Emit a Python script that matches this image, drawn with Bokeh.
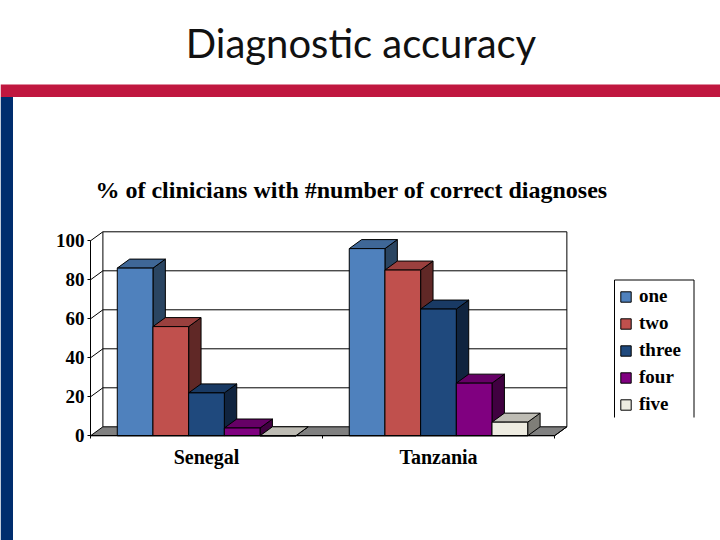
from bokeh.plotting import figure
from bokeh.models import LinearAxis, FixedTicker, Range1d, Legend, LegendItem
from bokeh.core.properties import value
from bokeh.embed import file_html
from bokeh.resources import INLINE

slide_title = "Diagnostic accuracy"
chart_title = "% of clinicians with #number of correct diagnoses"
categories = ["Senegal", "Tanzania"]
series_names = ["one", "two", "three", "four", "five"]
senegal = [86, 56, 22, 4, 0]
tanzania = [96, 85, 65, 27, 7]
y_ticks = [0, 20, 40, 60, 80, 100]
front_colors = ["#4f81bd", "#c0504d", "#1f497d", "#800080", "#eeece1"]
top_colors = ["#3f6797", "#9a403e", "#193a64", "#660066", "#bebcb4"]
side_colors = ["#2a4562", "#602826", "#10243f", "#400040", "#7f7e78"]

# Pixel geometry of the chart (canvas coordinates)
X0, UNIT = 90.0, 35.69      # x of axis origin, px per bar width
Y0, PCT = 435.3, 1.95       # y of value 0, px per percent
DX, DY = 12.4 / UNIT, 9.0 / PCT   # oblique depth in data units
W, H = 720, 540


def ux(px):
    return (px - X0) / UNIT


def uy(py):
    return (Y0 - py) / PCT


p = figure(width=W, height=H, output_backend="svg", toolbar_location=None,
           x_range=Range1d(ux(0), ux(W)), y_range=Range1d(uy(H), uy(0)),
           x_axis_type=None, y_axis_type=None, min_border=0,
           outline_line_color=None, background_fill_color="white",
           border_fill_color="white")

# Slide furniture
p.quad(left=[ux(0)], right=[ux(W)], top=[uy(84)], bottom=[uy(96.5)],
       fill_color="#c0173f", line_color=None)
p.quad(left=[ux(0)], right=[ux(12.5)], top=[uy(96.5)], bottom=[uy(H)],
       fill_color="#002d6e", line_color=None)
p.text(x=[ux(360.5)], y=[uy(42.5)], text=[slide_title], text_font=value("Lato"),
       text_font_size="40px", text_color="#111111", text_align="center",
       text_baseline="middle")
p.text(x=[ux(351)], y=[uy(189.5)], text=[chart_title],
       text_font=value("Liberation Serif"), text_font_style="bold",
       text_font_size="24px", text_color="black", text_align="center",
       text_baseline="middle")

# Floor and walls
p.patch([0, 13, 13 + DX, DX], [0, 0, DY, DY], fill_color="#808080",
        line_color="black", line_width=1)
p.line([DX, DX, 13 + DX, 13 + DX, 13],
       [DY, 100 + DY, 100 + DY, DY, 0], line_color="black", line_width=1)
gx0 = [DX for _ in y_ticks[1:-1]]
gx1 = [13 + DX for _ in y_ticks[1:-1]]
gy = [t + DY for t in y_ticks[1:-1]]
p.segment(gx0, gy, gx1, gy, line_color="black", line_width=1)
p.segment([0 for _ in y_ticks[1:]], y_ticks[1:],
          [DX for _ in y_ticks[1:]], [t + DY for t in y_ticks[1:]],
          line_color="black", line_width=1)

# Bars
legend_items = []
for i, name in enumerate(series_names):
    xs, tops = [], []
    for g, vals in enumerate([senegal, tanzania]):
        xs.append(g * 6.5 + 0.75 + i + 0.5)
        tops.append(vals[i])
    side_x = [[x + 0.5, x + 0.5 + DX, x + 0.5 + DX, x + 0.5] for x in xs]
    side_y = [[0, DY, t + DY, t] for t in tops]
    top_x = [[x - 0.5, x + 0.5, x + 0.5 + DX, x - 0.5 + DX] for x in xs]
    top_y = [[t, t, t + DY, t + DY] for t in tops]
    p.patches(side_x, side_y, fill_color=side_colors[i], line_color="black", line_width=1)
    p.patches(top_x, top_y, fill_color=top_colors[i], line_color="black", line_width=1)
    r = p.vbar(x=xs, top=tops, bottom=0, width=1, fill_color=front_colors[i],
               line_color="black", line_width=1)
    legend_items.append(LegendItem(label=value(name), renderers=[r]))

# Axes
yax = LinearAxis(ticker=FixedTicker(ticks=y_ticks), fixed_location=0, bounds=(0, 100),
                 major_tick_out=3, major_tick_in=0, minor_tick_out=0, minor_tick_in=0,
                 major_label_text_font="Liberation Serif",
                 major_label_text_font_style="bold",
                 major_label_text_font_size="19px", major_label_text_color="black",
                 major_label_standoff=3, axis_line_color="black")
p.add_layout(yax, "left")
cat_pos = [3.25, 9.75]
xax = LinearAxis(ticker=FixedTicker(ticks=cat_pos, minor_ticks=[0, 6.5, 13]),
                 fixed_location=0, bounds=(0, 13),
                 major_label_overrides={c: n for c, n in zip(cat_pos, categories)},
                 major_tick_out=0, major_tick_in=0, minor_tick_out=3, minor_tick_in=0,
                 major_label_text_font="Liberation Serif",
                 major_label_text_font_style="bold",
                 major_label_text_font_size="20px", major_label_text_color="black",
                 major_label_standoff=7, axis_line_color="black")
p.add_layout(xax, "below")

# Legend (open at the bottom, as in the reference)
legend = Legend(items=legend_items, location=(619, 125), orientation="vertical",
                border_line_color=None, background_fill_alpha=0.0,
                padding=6, margin=0, spacing=5,
                glyph_width=13, glyph_height=13, label_standoff=7,
                label_text_font="Liberation Serif", label_text_font_style="bold",
                label_text_font_size="19px", label_text_color="black",
                click_policy="none")
p.add_layout(legend, "center")
p.line([ux(614), ux(614), ux(693.5), ux(693.5)],
       [uy(417), uy(279.5), uy(279.5), uy(417)], line_color="black", line_width=1,
       level="overlay")

open("out.html", "w").write(file_html(p, INLINE))
